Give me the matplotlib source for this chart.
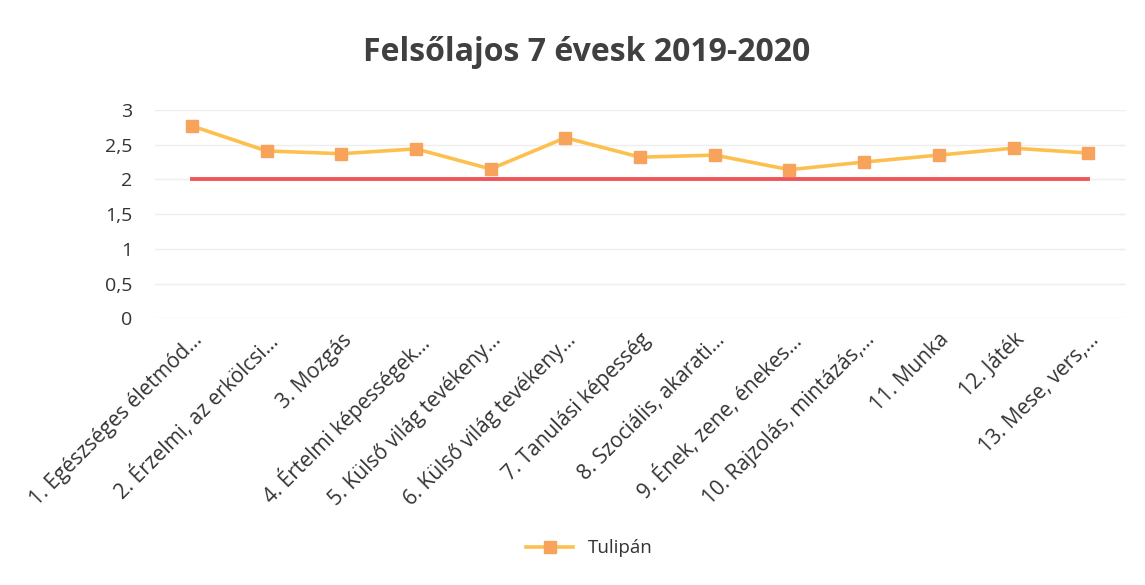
import matplotlib.pyplot as plt
import numpy as np

categories = ["1. Egészséges életmód...", "2. Érzelmi, az erkölcsi...", "3. Mozgás",
              "4. Értelmi képességek...", "5. Külső világ tevékeny...",
              "6. Külső világ tevékeny...", "7. Tanulási képesség",
              "8. Szociális, akarati...", "9. Ének, zene, énekes...",
              "10. Rajzolás, mintázás,...", "11. Munka", "12. Játék", "13. Mese, vers,..."]
tulipan = [2.77, 2.41, 2.37, 2.44, 2.15, 2.60, 2.32, 2.35, 2.14, 2.25, 2.35, 2.45, 2.38]
baseline = [2, 2, 2, 2, 2, 2, 2, 2, 2, 2, 2, 2, 2]
yticks = [0, 0.5, 1, 1.5, 2, 2.5, 3]
ytick_labels = ["0", "0,5", "1", "1,5", "2", "2,5", "3"]

plt.rcParams['font.family'] = ['Open Sans', 'DejaVu Sans']

fig = plt.figure(figsize=(11.45, 5.85), dpi=100)
ax = fig.add_axes([0.135, 0.456, 0.848, 0.356])

x = np.arange(len(categories))
ax.plot(x, baseline, color='#F0555A', linewidth=2.8, zorder=2)
line, = ax.plot(x, tulipan, color='#FDC04F', linewidth=2.6, marker='s', markersize=9,
                markerfacecolor='#F7A35C', markeredgecolor='#F7A35C', zorder=3, label='Tulipán')

ax.set_xlim(-0.5, len(categories) - 0.5)
ax.set_ylim(0, 3)
ax.set_yticks(yticks)
ax.set_yticklabels(ytick_labels, fontsize=14, color='#333333')
ax.set_xticks(x)
ax.set_xticklabels(categories, rotation=45, ha='right', rotation_mode='anchor',
                   fontsize=15, color='#333333')
ax.tick_params(axis='both', length=0)
ax.tick_params(axis='y', pad=16)
ax.tick_params(axis='x', pad=8)
ax.grid(axis='y', color='#EEEEEE', linewidth=1)
for s in ax.spines.values():
    s.set_visible(False)

fig.text(0.512, 0.91, "Felsőlajos 7 évesk 2019-2020", ha='center', va='center',
         fontsize=23, fontweight='bold', color='#404040')
fig.legend(handles=[line], loc='center', bbox_to_anchor=(0.515, 0.063), frameon=False,
           fontsize=13.5, handlelength=2.5, labelcolor='#333333')

fig.savefig('out.png', dpi=100, facecolor='white')
